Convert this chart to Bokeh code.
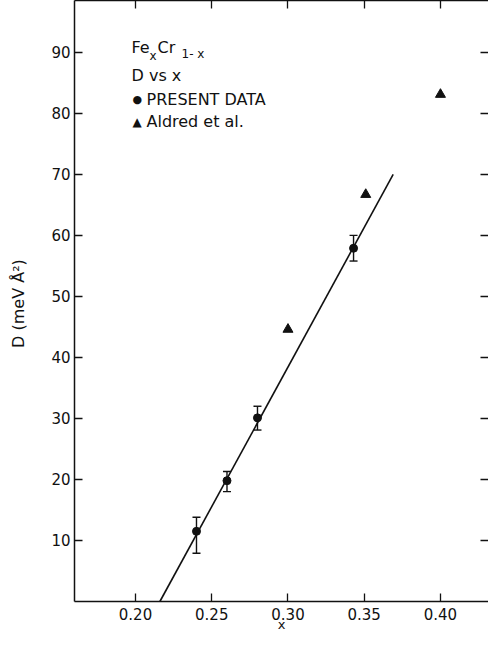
from bokeh.plotting import figure
from bokeh.models import (Range1d, LinearAxis, FixedTicker, Whisker, TeeHead,
                          ColumnDataSource, Label)
from bokeh.embed import file_html
from bokeh.resources import INLINE

# ---- data ----
present_x = [0.240, 0.260, 0.280, 0.343]
present_d = [11.5, 19.8, 30.1, 57.9]
present_lo = [7.9, 18.0, 28.1, 55.8]
present_hi = [13.8, 21.3, 32.0, 60.0]

aldred_x = [0.300, 0.351, 0.400]
aldred_d = [44.6, 66.7, 83.1]

fit_x = [0.216, 0.369]
fit_d = [0.0, 70.0]

x_ticks = [0.20, 0.25, 0.30, 0.35, 0.40]
x_tick_labels = ["0.20", "0.25", "0.30", "0.35", "0.40"]
y_ticks = [10, 20, 30, 40, 50, 60, 70, 80, 90]
y_tick_labels = [str(v) for v in y_ticks]

# ---- layout ----
X0, X1 = 0.16, 0.4315
Y0, Y1 = 0.0, 98.5
PX_L, PX_R = 82, 496   # page pixels of frame
PY_B, PY_T = 609, 8

def dx(px):
    return X0 + (px - PX_L) * (X1 - X0) / (PX_R - PX_L)

def dy(py):
    return Y0 + (PY_B - py) * (Y1 - Y0) / (PY_B - PY_T)

FONT = "DejaVu Sans"
INK = "#111111"

p = figure(width=488, height=634, x_range=Range1d(X0, X1), y_range=Range1d(Y0, Y1),
           output_backend="svg", toolbar_location=None,
           min_border_left=74, min_border_right=0, min_border_top=0, min_border_bottom=20)
p.outline_line_color = None
p.grid.visible = False
p.background_fill_color = "white"
p.border_fill_color = "white"

def style_axis(ax, ticks, labels=None, show_labels=True, line=True):
    ax.ticker = FixedTicker(ticks=ticks)
    if labels is not None:
        ax.major_label_overrides = {t: l for t, l in zip(ticks, labels)}
    ax.minor_tick_line_color = None
    ax.major_tick_in = 8
    ax.major_tick_out = 0
    ax.major_tick_line_color = INK
    ax.major_tick_line_width = 1.3
    ax.axis_line_color = INK if line else None
    ax.axis_line_width = 1.5
    ax.major_label_text_font = FONT
    ax.major_label_text_color = INK
    if show_labels:
        ax.major_label_text_font_size = "15px"
    else:
        ax.major_label_text_font_size = "1px"
        ax.major_label_text_color = None
        ax.major_label_standoff = 0

bottom = p.xaxis[0]
style_axis(bottom, x_ticks, x_tick_labels)
bottom.major_label_standoff = 6
bottom.axis_label = "x"
bottom.axis_label_text_font = FONT
bottom.axis_label_text_font_size = "13px"
bottom.axis_label_text_font_style = "normal"
bottom.axis_label_text_color = INK
bottom.axis_label_standoff = -6

left = p.yaxis[0]
style_axis(left, y_ticks, y_tick_labels)
left.major_label_standoff = 4
left.axis_label = "D (meV  Å²)"
left.axis_label_text_font = FONT
left.axis_label_text_font_size = "16px"
left.axis_label_text_font_style = "normal"
left.axis_label_text_color = INK
left.axis_label_standoff = 20

top = LinearAxis()
style_axis(top, x_ticks, show_labels=False)
p.add_layout(top, "above")

right = LinearAxis()
style_axis(right, y_ticks, show_labels=False, line=False)
p.add_layout(right, "right")

# ---- data marks ----
src = ColumnDataSource(dict(x=present_x, d=present_d, lo=present_lo, hi=present_hi))
p.line(fit_x, fit_d, line_color=INK, line_width=1.6)
p.add_layout(Whisker(source=src, base="x", upper="hi", lower="lo", dimension="height",
                     line_color=INK, line_width=1.4,
                     upper_head=TeeHead(size=8, line_color=INK, line_width=1.4),
                     lower_head=TeeHead(size=8, line_color=INK, line_width=1.4)))
p.scatter("x", "d", source=src, marker="circle", size=8, fill_color=INK, line_color=INK)
p.scatter(aldred_x, aldred_d, marker="triangle", size=10, fill_color=INK, line_color=INK)

# ---- in-plot key ----
def lab(text, px, py, size="16px", align="left"):
    p.add_layout(Label(x=dx(px), y=dy(py), text=text, text_font=FONT, text_font_size=size,
                       text_color=INK, text_align=align, text_baseline="alphabetic"))

lab("Fe", 139, 55)
lab("x", 157, 63, size="12px")
lab("Cr", 165, 55)
lab("1- x", 189, 61, size="12px")
lab("D vs x", 139, 83)
lab("●", 140, 107, size="11px")
lab("PRESENT DATA", 154, 107)
lab("▲", 140, 129, size="12px")
lab("Aldred et al.", 154, 129)

open("out.html", "w").write(file_html(p, INLINE))
